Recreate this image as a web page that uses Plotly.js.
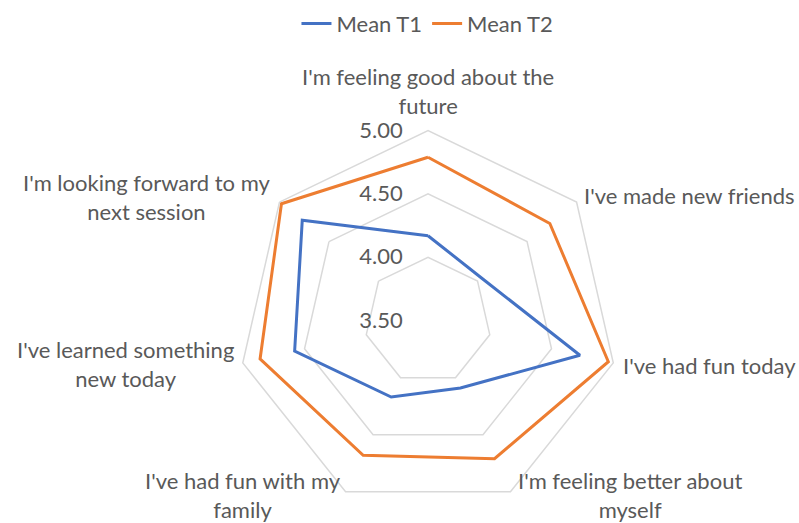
<!DOCTYPE html>
<html>
<head>
<meta charset="utf-8">
<script src="https://cdn.plot.ly/plotly-3.0.1.min.js"></script>
<style>
  html, body { margin: 0; padding: 0; background: #fff; }
  #radar { width: 799px; height: 523px; }
</style>
</head>
<body>
<div id="radar"></div>
<script>
// Categories, clockwise from the top
var statements = [
  "I'm feeling good about the<br>future",
  "I've made new friends",
  "I've had fun today",
  "I'm feeling better about<br>myself",
  "I've had fun with my<br>family",
  "I've learned something<br>new today",
  "I'm looking forward to my<br>next session"
];

var meanT1 = [4.17, 4.04, 4.73, 4.09, 4.17, 4.58, 4.77];
var meanT2 = [4.79, 4.73, 4.96, 4.71, 4.68, 4.86, 4.98];

var radialTicks = [3.5, 4.0, 4.5, 5.0];
var radialTickText = ["3.50", "4.00", "4.50", "5.00"];

// where each category label sits (pixels from top-left) and how it is anchored
var labelPos = [
  [428, 91, "center"],
  [583, 195, "left"],
  [622, 365, "left"],
  [630, 495, "center"],
  [243, 495, "center"],
  [125, 364, "center"],
  [147, 197, "center"]
];

var W = 799, H = 523;

// close the polygons
function closed(arr) { return arr.concat([arr[0]]); }

var t1 = {
  type: "scatterpolar",
  mode: "lines",
  name: "Mean T1",
  r: closed(meanT1),
  theta: closed(statements),
  line: { color: "#4472C4", width: 3 }
};

var t2 = {
  type: "scatterpolar",
  mode: "lines",
  name: "Mean T2",
  r: closed(meanT2),
  theta: closed(statements),
  line: { color: "#ED7D31", width: 3 }
};

var data = [t1, t2];

// category labels as annotations so the lines are centred like Excel
var notes = statements.map(function (s, i) {
  var p = labelPos[i];
  return {
    xref: "paper", yref: "paper",
    x: p[0] / W, y: 1 - p[1] / H,
    xanchor: p[2], yanchor: "middle",
    align: "center",
    text: s,
    showarrow: false,
    borderpad: 0,
    font: { size: 22, color: "#595959" }
  };
});

var layout = {
  width: W,
  height: H,
  margin: { l: 0, r: 0, t: 0, b: 0 },
  paper_bgcolor: "#fff",
  font: { family: "Lato, 'Open Sans', sans-serif", size: 22, color: "#595959" },
  showlegend: true,
  legend: {
    orientation: "h",
    x: 0.535, xanchor: "center",
    y: 0.995, yanchor: "top",
    font: { size: 22, color: "#595959" }
  },
  annotations: notes,
  polar: {
    domain: { x: [0.2979, 0.7735], y: [0.0237, 0.7503] },
    bgcolor: "rgba(0,0,0,0)",
    gridshape: "linear",
    radialaxis: {
      range: [3.5, 5],
      tickvals: radialTicks,
      ticktext: radialTickText,
      angle: 90,
      tickangle: 90,
      side: "counterclockwise",
      showline: false,
      ticks: "outside",
      ticklen: 17,
      tickcolor: "rgba(0,0,0,0)",
      gridcolor: "#d9d9d9",
      gridwidth: 1.5,
      tickfont: { size: 22, color: "#595959" }
    },
    angularaxis: {
      direction: "clockwise",
      rotation: 90,
      showgrid: false,
      showticklabels: false,
      showline: true,
      linecolor: "#d9d9d9",
      linewidth: 1.5,
      ticks: ""
    }
  }
};

Plotly.newPlot("radar", data, layout, { displayModeBar: false, staticPlot: true });
</script>
</body>
</html>
